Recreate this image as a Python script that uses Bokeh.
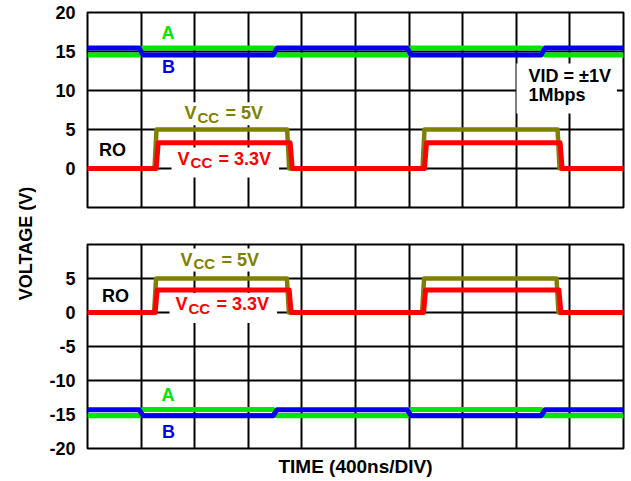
import numpy as np
from bokeh.plotting import figure
from bokeh.layouts import row, column
from bokeh.models import FixedTicker, Range1d
from bokeh.embed import file_html
from bokeh.resources import INLINE
from bokeh.core.properties import value

FONT = "Liberation Sans"
GREEN = "#00e600"
BLUE = "#0000ee"
OLIVE = "#808000"
RED = "#ff0000"

# ---- data (time in ns, 400 ns per division) ----
x_ticks = [0, 400, 800, 1200, 1600, 2000, 2400, 2800, 3200, 3600, 4000]
top_y_ticks = [0, 5, 10, 15, 20]
top_y_labels = ["0", "5", "10", "15", "20"]
bot_y_ticks = [-20, -15, -10, -5, 0, 5]
bot_y_labels = ["-20", "-15", "-10", "-5", "0", "5"]

# top panel: VID = +/-1V around +15V common mode
t_ab_top = [0, 385, 415, 1385, 1415, 2385, 2415, 3385, 3415, 4000]
a_top = [14.55, 14.55, 15.45, 15.45, 14.55, 14.55, 15.45, 15.45, 14.55, 14.55]
b_top = [15.45, 15.45, 14.55, 14.55, 15.45, 15.45, 14.55, 14.55, 15.45, 15.45]
t_ro5_top = [0, 500, 515, 1490, 1505, 2500, 2515, 3508, 3523, 4000]
ro5_top = [0, 0, 5, 5, 0, 0, 5, 5, 0, 0]
t_ro33_top = [0, 512, 528, 1512, 1528, 2515, 2530, 3527, 3542, 4000]
ro33_top = [0, 0, 3.3, 3.3, 0, 0, 3.3, 3.3, 0, 0]

# bottom panel: around -15V common mode
t_ab_bot = [0, 385, 415, 1385, 1415, 2385, 2415, 3385, 3415, 4000]
a_bot = [-15.2, -15.2, -14.25, -14.25, -15.2, -15.2, -14.25, -14.25, -15.2, -15.2]
b_bot = [-14.3, -14.3, -15.2, -15.2, -14.3, -14.3, -15.2, -15.2, -14.3, -14.3]
t_ro5_bot = [0, 497, 512, 1488, 1503, 2497, 2512, 3500, 3515, 4000]
ro5_bot = [0, 0, 5, 5, 0, 0, 5, 5, 0, 0]
t_ro33_bot = [0, 505, 520, 1505, 1520, 2508, 2523, 3518, 3533, 4000]
ro33_bot = [0, 0, 3.3, 3.3, 0, 0, 3.3, 3.3, 0, 0]


def make_panel(height, y_lo, y_hi, yticks, ylabels, b_top, b_bot, xlabel=None):
    p = figure(width=593, height=height, x_range=Range1d(0, 4000),
               y_range=Range1d(y_lo, y_hi),
               x_axis_location="below" if xlabel else None,
               output_backend="svg", toolbar_location=None,
               min_border_left=51, min_border_right=6,
               min_border_top=b_top, min_border_bottom=b_bot)
    p.xgrid.ticker = FixedTicker(ticks=x_ticks)
    p.yaxis.ticker = FixedTicker(ticks=yticks)
    p.yaxis.major_label_overrides = {t: s for t, s in zip(yticks, ylabels)}
    p.grid.grid_line_color = "black"
    p.grid.grid_line_width = 2
    p.grid.grid_line_alpha = 1
    p.outline_line_color = "black"
    p.outline_line_width = 2
    p.outline_line_alpha = 1
    ax = p.yaxis
    ax.axis_line_color = None
    ax.major_tick_line_color = None
    ax.minor_tick_line_color = None
    ax.major_tick_out = 0
    ax.major_tick_in = 0
    ax.major_label_standoff = 12
    ax.major_label_text_font = FONT
    ax.major_label_text_font_style = "bold"
    ax.major_label_text_font_size = "18px"
    ax.major_label_text_color = "black"
    if xlabel:
        xa = p.xaxis
        xa.ticker = FixedTicker(ticks=[])
        xa.axis_line_color = None
        xa.major_tick_line_color = None
        xa.minor_tick_line_color = None
        xa.major_tick_out = 0
        xa.major_tick_in = 0
        xa.major_label_standoff = 0
        xa.axis_label = xlabel
        xa.axis_label_standoff = 7
        xa.axis_label_text_font = FONT
        xa.axis_label_text_font_style = "bold"
        xa.axis_label_text_font_size = "19px"
        xa.axis_label_text_color = "black"
    return p


def txt(p, x, y, s, color, size="18px", align="left", xo=0, yo=0,
        bg=None, pad=None):
    """Text anchored at its own left/middle; a padded white box does not move it."""
    kw = {}
    if bg is not None:
        kw.update(background_fill_color=bg, padding=pad)
        # the anchor refers to the padded box: compensate so the text stays put
        xo -= pad["left"]
        yo += (pad["bottom"] - pad["top"]) / 2.0
    p.text(x=[x], y=[y], text=[s], text_color=color, text_font=value(FONT),
           text_font_style="bold", text_font_size=size, text_align=align,
           text_baseline="middle", x_offset=xo, y_offset=yo, **kw)


def vcc(p, x, y, rest, color, bottom_pad):
    # the "V" box also spans the place of the subscript drawn after it
    txt(p, x, y, "V", color, bg="white",
        pad=dict(left=6, right=28, top=1, bottom=bottom_pad))
    txt(p, x, y, "CC", color, size="15px", xo=13, yo=4)
    txt(p, x, y, rest, color, xo=41, bg="white",
        pad=dict(left=2, right=8, top=1, bottom=bottom_pad))


def traces(p, t_ab, a, b, t5, r5, t33, r33):
    p.line(t_ab, a, line_color=GREEN, line_width=5, line_join="round")
    p.line(t_ab, b, line_color=BLUE, line_width=5, line_join="round")
    p.line(t5, r5, line_color=OLIVE, line_width=4.5, line_join="round")
    p.line(t33, r33, line_color=RED, line_width=5, line_join="round")


# ---- top panel ----
p1 = make_panel(226, -5, 20, top_y_ticks, top_y_labels, 12, 19)
traces(p1, t_ab_top, a_top, b_top, t_ro5_top, ro5_top, t_ro33_top, ro33_top)
txt(p1, 600, 17.4, "A", GREEN, align="center")
txt(p1, 605, 13.0, "B", BLUE, align="center")
txt(p1, 187, 2.4, "RO", "black", align="center")
vcc(p1, 724, 7.08, "= 5V", OLIVE, 2)
vcc(p1, 672, 1.28, "= 3.3V", RED, 9)
# box of the first line also spans the second line, drawn after it
txt(p1, 3291, 11.92, "VID = \u00b11V", "black", bg="white",
    pad=dict(left=12, right=6, top=2, bottom=28))
txt(p1, 3291, 9.36, "1Mbps", "black")

# ---- bottom panel ----
p2 = make_panel(253, -20, 10, bot_y_ticks, bot_y_labels, 18, 31,
                xlabel="TIME (400ns/DIV)")
traces(p2, t_ab_bot, a_bot, b_bot, t_ro5_bot, ro5_bot, t_ro33_bot, ro33_bot)
vcc(p2, 694, 7.79, "= 5V", OLIVE, 2)
vcc(p2, 657, 1.25, "= 3.3V", RED, 9)
txt(p2, 209, 2.5, "RO", "black", align="center")
txt(p2, 600, -12.2, "A", GREEN, align="center")
txt(p2, 605, -17.5, "B", BLUE, align="center")

# ---- shared y label strip ----
lab = figure(width=36, height=479, x_range=Range1d(0, 36), y_range=Range1d(0, 479),
             x_axis_location=None, y_axis_location=None, output_backend="svg",
             toolbar_location=None, min_border=0, outline_line_color=None)
lab.grid.visible = False
lab.text(x=[25], y=[236], text=["VOLTAGE (V)"], angle=np.pi / 2,
         text_font=value(FONT), text_font_style="bold", text_font_size="18px",
         text_align="center", text_baseline="middle", text_color="black")

layout = row(lab, column(p1, p2))
open("out.html", "w").write(file_html(layout, INLINE))
